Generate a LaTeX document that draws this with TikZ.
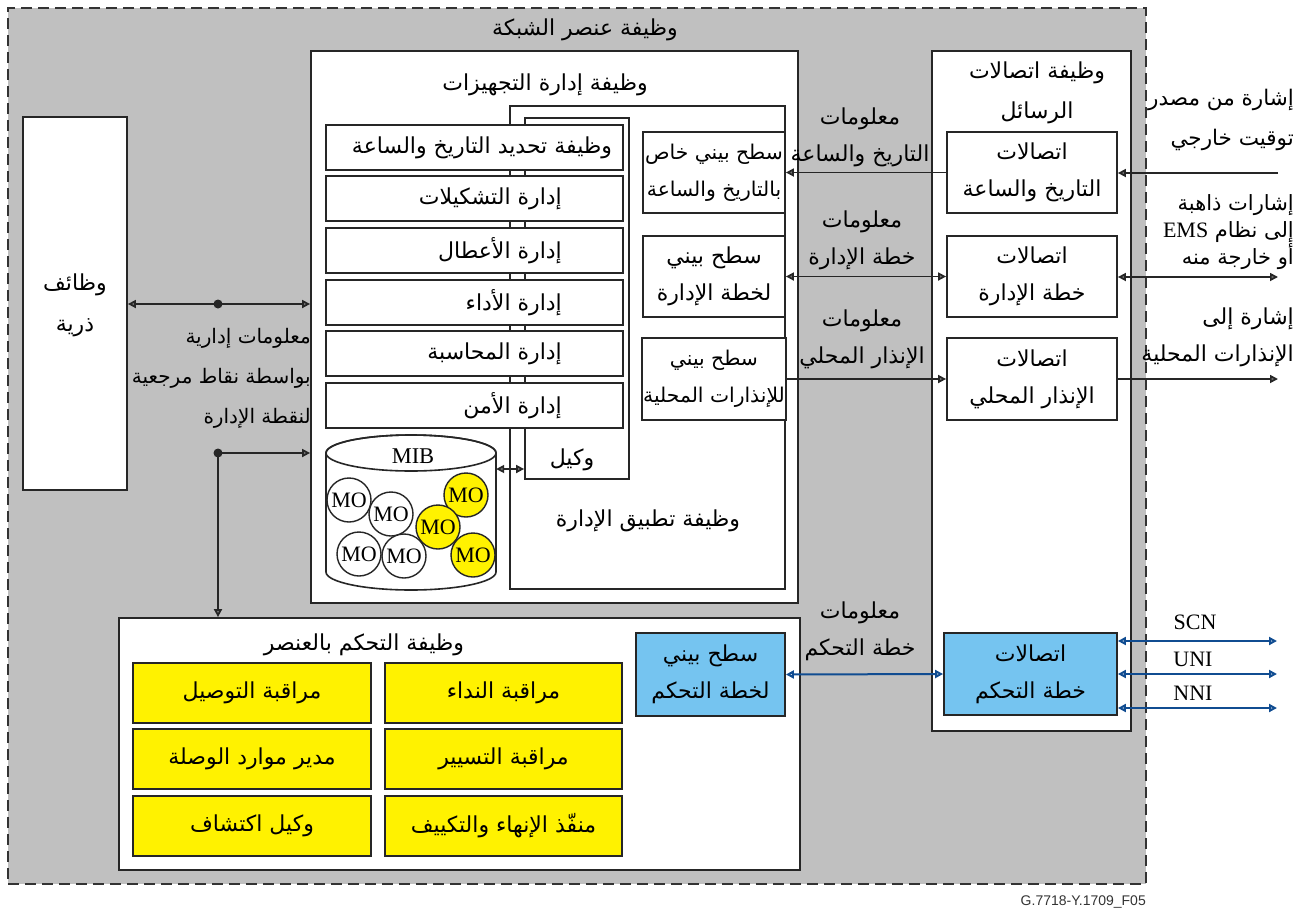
\documentclass[tikz,border=0pt]{standalone}
\usepackage{fontspec}
\setmainfont{Liberation Serif}
\newfontfamily\arabicfont[Script=Arabic]{DejaVu Sans}
\newfontfamily\footfont{Liberation Sans}
\TeXXeTstate=1
\usetikzlibrary{arrows.meta}
\newcommand\artxt[1]{\beginR#1\endR}

\definecolor{negrey}{RGB}{192,192,192}
\definecolor{fnyellow}{RGB}{255,242,0}
\definecolor{cpblue}{RGB}{117,196,240}
\definecolor{linkblue}{RGB}{16,76,145}

\begin{document}
\begin{tikzpicture}[x=1pt,y=-1pt,
  box/.style={draw=black!85, line width=1.8pt, fill=white, inner sep=0pt},
  ybox/.style={box, fill=fnyellow, minimum height=60pt},
  bbox/.style={box, fill=cpblue},
  arfont/.style={font=\arabicfont\fontsize{22}{37}\selectfont},
  ar/.style={arfont, align=center, inner sep=1pt},
  arsmall/.style={font=\arabicfont\fontsize{20.3}{37}\selectfont},
  ktip/.tip={Triangle[length=8pt,width=8pt,fill=black!55]},
  btip/.tip={Triangle[length=8pt,width=8pt,fill=white]},
  arr/.style={draw=black!85, line width=1.7pt, -ktip},
  dbl/.style={draw=black!85, line width=1.7pt, ktip-ktip},
  bdbl/.style={draw=linkblue, line width=2pt, btip-btip},
  mo/.style={circle, draw=black!85, line width=1.4pt, fill=white, minimum size=44pt, inner sep=0pt, font=\fontsize{22}{22}\selectfont},
  ymo/.style={mo, fill=fnyellow},
  lat/.style={font=\fontsize{22}{22}\selectfont, inner sep=1pt}
]
\useasboundingbox (0,0) rectangle (1310,911);

% network element function (dashed grey frame)
\node[draw=black!80, fill=negrey, line width=1.8pt, dash pattern=on 11pt off 6pt,
      minimum width=1138pt, minimum height=876pt, inner sep=0pt] (ne) at (577,446) {};
\node[ar] (netitle) at (585,30) {\artxt{وظيفة عنصر الشبكة}};

% atomic functions
\node[box, minimum width=104pt, minimum height=373pt] (atomic) at (75,303.5) {};
\node[ar, font=\arabicfont\fontsize{22}{41}\selectfont] (atomictxt) at (75,305) {\artxt{وظائف}\\\artxt{ذرية}};

% equipment management function
\node[box, minimum width=487pt, minimum height=552pt] (emf) at (554.5,327) {};
\node[ar] (emftitle) at (545,85) {\artxt{وظيفة إدارة التجهيزات}};

% management application function and agent
\node[box, minimum width=275pt, minimum height=483pt] (app) at (647.5,347.5) {};
\node[ar] (apptitle) at (648,521) {\artxt{وظيفة تطبيق الإدارة}};
\node[box, minimum width=104pt, minimum height=361pt] (agent) at (577,298.5) {};
\node[ar] (agenttxt) at (572,460) {\artxt{وكيل}};

% management functions
\foreach \n/\cy in {1/147.5,2/198.5,3/250.5,4/302.5,5/353.5,6/405.5}
  \node[box, minimum width=297pt, minimum height=45pt] (fn\n) at (474.5,\cy) {};
\node[ar] (fn1t) at (482,147.5) {\artxt{وظيفة تحديد التاريخ والساعة}};
\node[ar, anchor=east] (fn2t) at (563,198.5) {\artxt{إدارة التشكيلات}};
\node[ar, anchor=east] (fn3t) at (563,250.5) {\artxt{إدارة الأعطال}};
\node[ar, anchor=east] (fn4t) at (563,302.5) {\artxt{إدارة الأداء}};
\node[ar, anchor=east] (fn5t) at (563,353.5) {\artxt{إدارة المحاسبة}};
\node[ar, anchor=east] (fn6t) at (563,405.5) {\artxt{إدارة الأمن}};

% MIB cylinder with managed objects
\node[inner sep=0pt, minimum width=170pt, minimum height=155pt] (mib) at (411,512.5) {};
\draw[draw=black!85, line width=1.6pt, fill=white]
  (326,453) -- (326,572) arc[start angle=180, end angle=360, x radius=85pt, y radius=18pt]
  -- (496,453) arc[start angle=0, end angle=180, x radius=85pt, y radius=18pt] -- cycle;
\draw[draw=black!85, line width=1.6pt] (411,453) ellipse[x radius=85pt, y radius=18pt];
\node[font=\fontsize{22.5}{22.5}\selectfont, inner sep=0pt] (mibtxt) at (413,456) {MIB};
\node[mo] (mo1) at (349,500) {MO};
\node[mo] (mo2) at (391,514) {MO};
\node[mo] (mo3) at (359,554) {MO};
\node[mo] (mo4) at (404,556) {MO};
\node[ymo] (mo5) at (466,495) {MO};
\node[ymo] (mo6) at (438,527) {MO};
\node[ymo] (mo7) at (473,555) {MO};
\coordinate (ymib) at (0,469);
\draw[dbl] (mib.east |- ymib) -- (agent.west |- ymib);

% interfaces inside the equipment management function
\node[box, ar, arsmall, minimum width=142pt, minimum height=81pt] (tif) at (714,172.5) {\artxt{سطح بيني خاص}\\\artxt{بالتاريخ والساعة}};
\node[box, ar, minimum width=142pt, minimum height=81pt] (mif) at (714,276.5) {\artxt{سطح بيني}\\\artxt{لخطة الإدارة}};
\node[box, ar, arsmall, minimum width=142pt, minimum height=82pt] (aif) at (714,379) {\artxt{سطح بيني}\\\artxt{للإنذارات المحلية}};

% message communications function
\node[box, minimum width=199pt, minimum height=680pt] (mcf) at (1031.5,391) {};
\node[ar, font=\arabicfont\fontsize{22}{40}\selectfont] (mcftitle) at (1037,93) {\artxt{وظيفة اتصالات}\\\artxt{الرسائل}};
\node[box, ar, minimum width=170pt, minimum height=81pt] (tcom) at (1032,172.5) {\artxt{اتصالات}\\\artxt{التاريخ والساعة}};
\node[box, ar, minimum width=170pt, minimum height=81pt] (mcom) at (1032,276.5) {\artxt{اتصالات}\\\artxt{خطة الإدارة}};
\node[box, ar, minimum width=170pt, minimum height=82pt] (acom) at (1032,379) {\artxt{اتصالات}\\\artxt{الإنذار المحلي}};
\node[bbox, ar, minimum width=173pt, minimum height=82pt] (ccom) at (1030.5,674) {\artxt{اتصالات}\\\artxt{خطة التحكم}};

% element control function
\node[box, minimum width=681pt, minimum height=252pt] (ecf) at (459.5,744) {};
\node[ar] (ecftitle) at (364,645) {\artxt{وظيفة التحكم بالعنصر}};
\node[ybox, ar, minimum width=238pt] (cc) at (252,693) {\artxt{مراقبة التوصيل}};
\node[ybox, ar, minimum width=237pt] (callc) at (503.5,693) {\artxt{مراقبة النداء}};
\node[ybox, ar, minimum width=238pt] (lrm) at (252,759) {\artxt{مدير موارد الوصلة}};
\node[ybox, ar, minimum width=237pt] (rc) at (503.5,759) {\artxt{مراقبة التسيير}};
\node[ybox, ar, minimum width=238pt] (da) at (252,826) {\artxt{وكيل اكتشاف}};
\node[ybox, ar, minimum width=237pt] (tap) at (503.5,826) {\artxt{منفّذ الإنهاء والتكييف}};
\node[bbox, ar, minimum width=149pt, minimum height=83pt] (cif) at (710.5,674.5) {\artxt{سطح بيني}\\\artxt{لخطة التحكم}};

% management information links on the left
\coordinate (dotA) at (218,304);
\coordinate (dotB) at (218,453);
\draw[dbl] (atomic.east |- dotA) -- (emf.west |- dotA);
\draw[arr] (dotB) -- (emf.west |- dotB);
\draw[arr] (dotB) -- (dotB |- ecf.north);
\fill[black!85] (dotA) circle[radius=4.5pt];
\fill[black!85] (dotB) circle[radius=4.5pt];
\node[align=right, anchor=east, inner sep=0pt, font=\arabicfont\fontsize{20}{40}\selectfont] (mgmtinfo) at (311,378)
  {\artxt{معلومات إدارية}\\\artxt{بواسطة نقاط مرجعية}\\\artxt{لنقطة الإدارة}};

% information flows between interfaces and communications
\node[ar] (tinfo) at (860,137) {\artxt{معلومات}\\\artxt{التاريخ والساعة}};
\node[ar] (minfo) at (862,240) {\artxt{معلومات}\\\artxt{خطة الإدارة}};
\node[ar] (ainfo) at (862,339) {\artxt{معلومات}\\\artxt{الإنذار المحلي}};
\node[ar] (cinfo) at (860,631) {\artxt{معلومات}\\\artxt{خطة التحكم}};
\draw[arr] (tcom.west) -- (tif.east);
\draw[dbl] (mif.east) -- (mcom.west);
\draw[arr] (aif.east) -- (acom.west);
\draw[bdbl] (cif.east) -- (ccom.west);

% external signals
\coordinate (extT) at (1278,173);
\coordinate (extM) at (1278,277);
\coordinate (extA) at (1278,379);
\draw[arr] (extT) -- (tcom.east |- extT);
\draw[dbl] (mcom.east |- extM) -- (extM);
\draw[arr] (acom.east) -- (extA);
\node[ar, align=right, anchor=east, inner sep=0pt, font=\arabicfont\fontsize{21.5}{40}\selectfont] (exttxt) at (1294,120) {\artxt{إشارة من مصدر}\\\artxt{توقيت خارجي}};
\node[ar, align=right, anchor=east, inner sep=0pt, font=\arabicfont\fontsize{21}{27}\selectfont] (emstxt) at (1294,232)
  {\artxt{إشارات ذاهبة}\\\artxt{إلى نظام {\rmfamily\fontsize{22}{27}\selectfont EMS}}\\\artxt{أو خارجة منه}};
\node[ar, align=right, anchor=east, inner sep=0pt] (alarmtxt) at (1294,337) {\artxt{إشارة إلى}\\\artxt{الإنذارات المحلية}};

% control plane signalling interfaces
\coordinate (scn) at (1277,641);
\coordinate (uni) at (1277,674);
\coordinate (nni) at (1277,708);
\draw[bdbl] (ccom.east |- scn) -- (scn);
\draw[bdbl] (ccom.east |- uni) -- (uni);
\draw[bdbl] (ccom.east |- nni) -- (nni);
\node[lat] (scntxt) at (1195,622) {SCN};
\node[lat] (unitxt) at (1193,659) {UNI};
\node[lat] (nnitxt) at (1193,693) {NNI};

% figure reference
\node[font=\footfont\fontsize{14}{14}\selectfont, anchor=east, inner sep=0pt, text=black!80] (figref) at (1146,902) {G.7718-Y.1709\_F05};
\end{tikzpicture}
\end{document}
